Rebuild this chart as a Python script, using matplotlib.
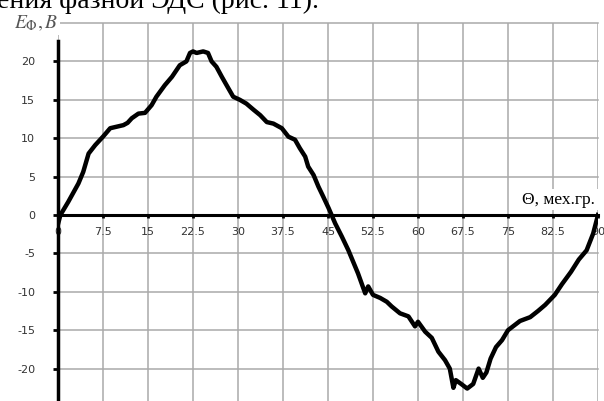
import numpy as np
import matplotlib
matplotlib.use("Agg")
import matplotlib.pyplot as plt

plt.rcParams["mathtext.fontset"] = "stix"

# phase EMF vs mechanical angle
theta = [0, 0.4, 1.7, 3.4, 4.2, 5.1, 6.2, 7.5, 8.7, 9.8, 10.9, 11.6, 12.3, 13.4,
         14.5, 15.6, 16.4, 17.8, 19.0, 20.3, 21.4, 22.0, 22.5, 23.1, 24.2, 25.0,
         25.6, 26.4, 27.3, 28.1, 29.2, 30.3, 31.4, 32.6, 33.7, 34.8, 35.9, 37.3,
         38.4, 39.5, 40.3, 41.2, 41.7, 42.6, 43.4, 44.2, 45.1, 46.2, 47.3, 48.4,
         49.2, 50.0, 50.6, 51.2, 51.7, 52.5, 53.7, 54.8, 55.6, 57.0, 58.4, 59.5,
         60.0, 61.2, 62.3, 63.4, 64.5, 65.3, 65.9, 66.3, 67.2, 68.2, 69.2, 70.1,
         70.8, 71.4, 72.1, 73.0, 74.0, 75.0, 77.0, 78.7, 80.0, 81.2, 82.8, 84.0,
         85.5, 86.8, 88.1, 89.2, 90.0]
emf = [-1.2, 0, 1.7, 4.1, 5.6, 8.0, 9.1, 10.2, 11.3, 11.5, 11.7, 12.0, 12.6, 13.2,
       13.3, 14.3, 15.4, 16.9, 18.0, 19.5, 20.0, 21.1, 21.3, 21.1, 21.3, 21.1,
       20.0, 19.3, 18.0, 16.9, 15.4, 15.0, 14.5, 13.7, 13.0, 12.1, 11.9, 11.3,
       10.2, 9.8, 8.7, 7.6, 6.3, 5.2, 3.7, 2.4, 0.9, -1.1, -2.8, -4.6,
       -6.1, -7.6, -8.9, -10.2, -9.3, -10.4, -10.8, -11.3, -11.9, -12.8, -13.2, -14.5,
       -13.9, -15.2, -16.0, -17.8, -18.9, -20.0, -22.5, -21.5, -22.0, -22.6, -22.0, -20.0,
       -21.2, -20.5, -18.7, -17.2, -16.3, -15.0, -13.8, -13.3, -12.5, -11.7, -10.4, -9.0,
       -7.4, -5.8, -4.6, -2.4, 0.0]

x_ticks = np.arange(0, 90.1, 7.5)
x_labels = ["0", "7.5", "15", "22.5", "30", "37.5", "45", "52.5", "60",
            "67.5", "75", "82.5", "90"]
y_ticks = np.arange(-25, 25.1, 5)
y_labels = ["-25", "-20", "-15", "-10", "-5", "0", "5", "10", "15", "20", ""]

fig = plt.figure(figsize=(6.04, 4.01), dpi=100)
ax = fig.add_axes([58 / 604, -6 / 401, 540 / 604, 384 / 401])

ax.plot(theta, emf, color="black", lw=3.2, solid_joinstyle="round", zorder=4)

ax.set_xlim(0, 90)
ax.set_ylim(-25, 25)
ax.set_xticks(x_ticks)
ax.set_xticklabels(x_labels)
ax.set_yticks(y_ticks)
ax.set_yticklabels(y_labels)

ax.grid(True, color="#aaaaaa", lw=1.1)
for gl in ax.get_xgridlines() + ax.get_ygridlines():
    gl.set_clip_on(False)

for s in ["top", "right"]:
    ax.spines[s].set_visible(False)
ax.spines["bottom"].set_position(("data", 0))
ax.spines["bottom"].set_linewidth(2.2)
ax.spines["bottom"].set_zorder(3)
ax.spines["left"].set_bounds(-25, 22.7)
ax.spines["left"].set_linewidth(2.5)

ax.tick_params(axis="x", length=2.5, width=2, pad=6, labelsize=8, labelcolor="#333333")
ax.tick_params(axis="y", length=3.5, width=2, pad=13, labelsize=8, labelcolor="#333333")

ax.text(0, 25, r"$E_{\Phi}, B$", fontsize=14, color="#555555", ha="right",
        va="center", clip_on=False,
        bbox=dict(facecolor="white", edgecolor="none", pad=1.5), zorder=5)
ax.text(89.5, 2.0, "Θ, мех.гр.", fontsize=12.5, family="Liberation Serif",
        ha="right", va="center", zorder=5,
        bbox=dict(facecolor="white", edgecolor="none", pad=2))

fig.text(-3 / 604, 1 - 8 / 401, "ения фазной ЭДС (рис. 11).", fontsize=20,
         family="Liberation Serif", ha="left", va="baseline")

fig.savefig("out.png", dpi=100)
